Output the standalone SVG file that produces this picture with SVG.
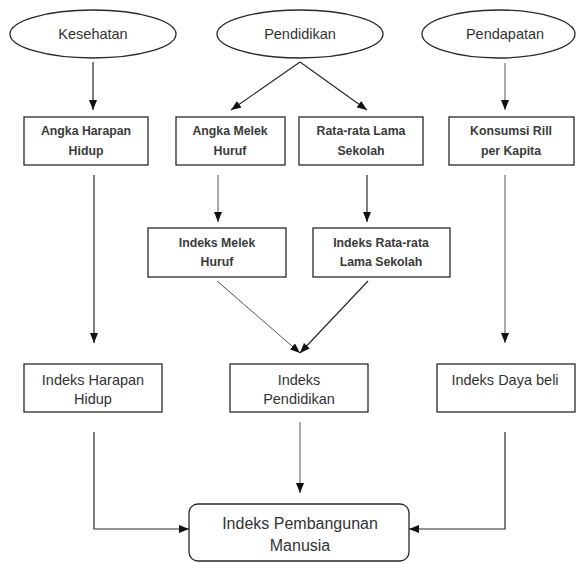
<svg xmlns="http://www.w3.org/2000/svg" width="577" height="563" viewBox="0 0 577 563">
<style>
.bg{fill:#fff}
.node{fill:#fff;stroke:#2a2a2a;stroke-width:1.3}
.t{font-family:"Liberation Sans",Arial,sans-serif;fill:#333;text-anchor:middle}
.ell{font-size:14.5px}
.sm{font-size:12.3px;font-weight:bold;fill:#3a3a3a}
.md{font-size:14.5px}
.lg{font-size:16px}
.c{fill:none;stroke:#2a2a2a;stroke-width:1.2}
.c2{fill:none;stroke:#555;stroke-width:1}
</style>
<defs>
<marker id="ah" markerUnits="userSpaceOnUse" markerWidth="10" markerHeight="8" refX="10" refY="4" orient="auto">
<path d="M0,0 L10,4 L0,8 z" fill="#111"/>
</marker>
</defs>
<rect class="bg" x="0" y="0" width="577" height="563"/>

<g id="kesehatan"><ellipse class="node" cx="93" cy="34" rx="83" ry="24"/><text class="t ell" x="93" y="39">Kesehatan</text></g>
<g id="pendidikan"><ellipse class="node" cx="300" cy="34" rx="83" ry="24"/><text class="t ell" x="300" y="39">Pendidikan</text></g>
<g id="pendapatan"><ellipse class="node" cx="498.5" cy="34" rx="76.5" ry="24"/><text class="t ell" x="505" y="39">Pendapatan</text></g>

<g id="angka-harapan"><rect class="node" x="24" y="117" width="124" height="48"/><text class="t sm" x="86" y="135">Angka Harapan</text><text class="t sm" x="86" y="155">Hidup</text></g>
<g id="angka-melek"><rect class="node" x="176" y="117" width="109" height="48"/><text class="t sm" x="230" y="135">Angka Melek</text><text class="t sm" x="230" y="155">Huruf</text></g>
<g id="rata-rata"><rect class="node" x="299" y="117" width="124" height="48"/><text class="t sm" x="361" y="135">Rata-rata Lama</text><text class="t sm" x="361" y="155">Sekolah</text></g>
<g id="konsumsi"><rect class="node" x="449" y="117" width="125" height="48"/><text class="t sm" x="511" y="135">Konsumsi Rill</text><text class="t sm" x="511" y="155">per Kapita</text></g>

<g id="indeks-melek"><rect class="node" x="148" y="228" width="138" height="49"/><text class="t sm" x="217" y="247">Indeks Melek</text><text class="t sm" x="217" y="266">Huruf</text></g>
<g id="indeks-rata"><rect class="node" x="313" y="228" width="137" height="49"/><text class="t sm" x="381" y="247">Indeks Rata-rata</text><text class="t sm" x="381" y="266">Lama Sekolah</text></g>

<g id="indeks-harapan"><rect class="node" x="24" y="364" width="138" height="48"/><text class="t md" x="93" y="385">Indeks Harapan</text><text class="t md" x="93" y="404">Hidup</text></g>
<g id="indeks-pendidikan"><rect class="node" x="230" y="364" width="138" height="48"/><text class="t md" x="299" y="385">Indeks</text><text class="t md" x="299" y="404">Pendidikan</text></g>
<g id="indeks-daya"><rect class="node" x="437" y="364" width="138" height="48"/><text class="t md" x="505" y="385">Indeks Daya beli</text></g>

<g id="ipm"><rect class="node" x="189" y="504" width="220" height="57" rx="9"/><text class="t lg" x="300" y="529">Indeks Pembangunan</text><text class="t lg" x="300" y="551">Manusia</text></g>

<g id="connectors">
<path class="c" d="M93,62 L93,110" marker-end="url(#ah)"/>
<path class="c" d="M300,62 L231,110" marker-end="url(#ah)"/>
<path class="c" d="M300,62 L367,110" marker-end="url(#ah)"/>
<path class="c2" d="M505,63 L505,110" marker-end="url(#ah)"/>
<path class="c" d="M94,175 L94,343" marker-end="url(#ah)"/>
<path class="c2" d="M218,175 L218,222" marker-end="url(#ah)"/>
<path class="c" d="M367,175 L367,222" marker-end="url(#ah)"/>
<path class="c2" d="M505,175 L505,343" marker-end="url(#ah)"/>
<path class="c2" d="M217,281 L300,353" marker-end="url(#ah)"/>
<path class="c" d="M368,281 L300,353" marker-end="url(#ah)"/>
<path class="c" d="M94,432 L94,529 L189,529" marker-end="url(#ah)"/>
<path class="c2" d="M300,422 L300,493" marker-end="url(#ah)"/>
<path class="c" d="M505,432 L505,529 L409,529" marker-end="url(#ah)"/>
</g>
</svg>
